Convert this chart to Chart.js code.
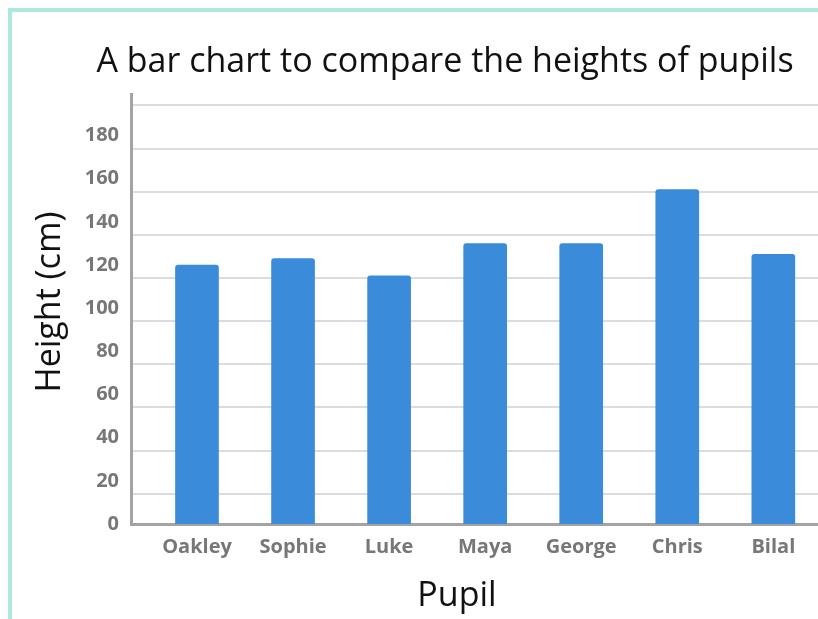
<!DOCTYPE html>
<html>
<head>
<meta charset="utf-8">
<script src="https://cdn.jsdelivr.net/npm/chart.js@4.4.1/dist/chart.umd.min.js"></script>
<style>
  html, body { margin: 0; padding: 0; background: #fff; }
  #wrap { position: relative; width: 818px; height: 619px; overflow: hidden; }
  #frame {
    position: absolute; left: 8px; top: 8px; right: 0; bottom: 0;
    border-left: 4px solid #aee8dc; border-top: 4px solid #aee8dc;
  }
  canvas { position: absolute; left: 0; top: 0; }
</style>
</head>
<body>
<div id="wrap">
  <div id="frame"></div>
  <canvas id="chart" width="818" height="619"></canvas>
</div>
<script>
const chartTitle = "A bar chart to compare the heights of pupils";
const xTitle = "Pupil";
const yTitle = "Height (cm)";

const pupils = ["Oakley", "Sophie", "Luke", "Maya", "George", "Chris", "Bilal"];
const heights = [120, 123, 115, 130, 130, 155, 125];

const yTicks = [0, 20, 40, 60, 80, 100, 120, 140, 160, 180];
const gridValues = [14, 34, 54, 74, 94, 114, 134, 154, 174, 194];

const BLUE = "#3a8bd9";
const AXIS_GREY = "#a3a3a3";
const LABEL_GREY = "#777777";
const FONT = "'Open Sans', sans-serif";

// axis titles and the heading sit off-centre in the original, so draw them by hand
const titles = {
  id: "titles",
  afterDraw(chart) {
    const { ctx } = chart;
    ctx.save();
    ctx.fillStyle = "#111";
    ctx.textAlign = "center";
    ctx.textBaseline = "alphabetic";
    ctx.font = `34px ${FONT}`;
    ctx.fillText(chartTitle, 445, 72);
    ctx.fillText(xTitle, 457, 606);
    ctx.translate(60, 302);
    ctx.rotate(-Math.PI / 2);
    ctx.fillText(yTitle, 0, 0);
    ctx.restore();
  },
};

const tickFont = { family: FONT, size: 20, weight: "bold" };

new Chart(document.getElementById("chart"), {
  type: "bar",
  data: {
    datasets: [
      {
        data: pupils.map((p, i) => ({ x: i, y: heights[i] })),
        backgroundColor: BLUE,
        borderWidth: 0,
        borderRadius: 3,
        borderSkipped: "bottom",
        barThickness: 43,
      },
    ],
  },
  options: {
    responsive: false,
    animation: false,
    layout: { padding: { top: 94, left: 0, right: 0, bottom: 0 }, autoPadding: false },
    plugins: { legend: { display: false }, tooltip: { enabled: false } },
    scales: {
      x: {
        type: "linear",
        offset: false,
        min: -0.687,
        max: 6.465,
        afterBuildTicks: (s) => {
          s.ticks = pupils.map((_, i) => ({ value: i }));
        },
        afterFit: (s) => {
          s.height = 95;
          s.paddingLeft = 0;
          s.paddingRight = 0;
        },
        grid: { display: false, drawTicks: false, offset: false },
        border: { color: AXIS_GREY, width: 3 },
        ticks: {
          callback: (v) => pupils[v],
          color: LABEL_GREY,
          font: tickFont,
          padding: 11,
          autoSkip: false,
          maxRotation: 0,
        },
      },
      y: {
        min: 0,
        max: 199.3,
        afterBuildTicks: (s) => {
          s.ticks = yTicks.map((v) => ({ value: v }));
        },
        afterFit: (s) => {
          s.width = 131;
        },
        grid: { display: false, drawTicks: false },
        border: { color: AXIS_GREY, width: 3 },
        ticks: { color: LABEL_GREY, font: tickFont, padding: 12 },
      },
      yGrid: {
        position: "left",
        min: 0,
        max: 199.3,
        afterBuildTicks: (s) => {
          s.ticks = gridValues.map((v) => ({ value: v }));
        },
        ticks: { display: false },
        grid: { color: "#dcdcdc", lineWidth: 2, drawTicks: false },
        border: { display: false },
      },
    },
  },
  plugins: [titles],
});
</script>
</body>
</html>
